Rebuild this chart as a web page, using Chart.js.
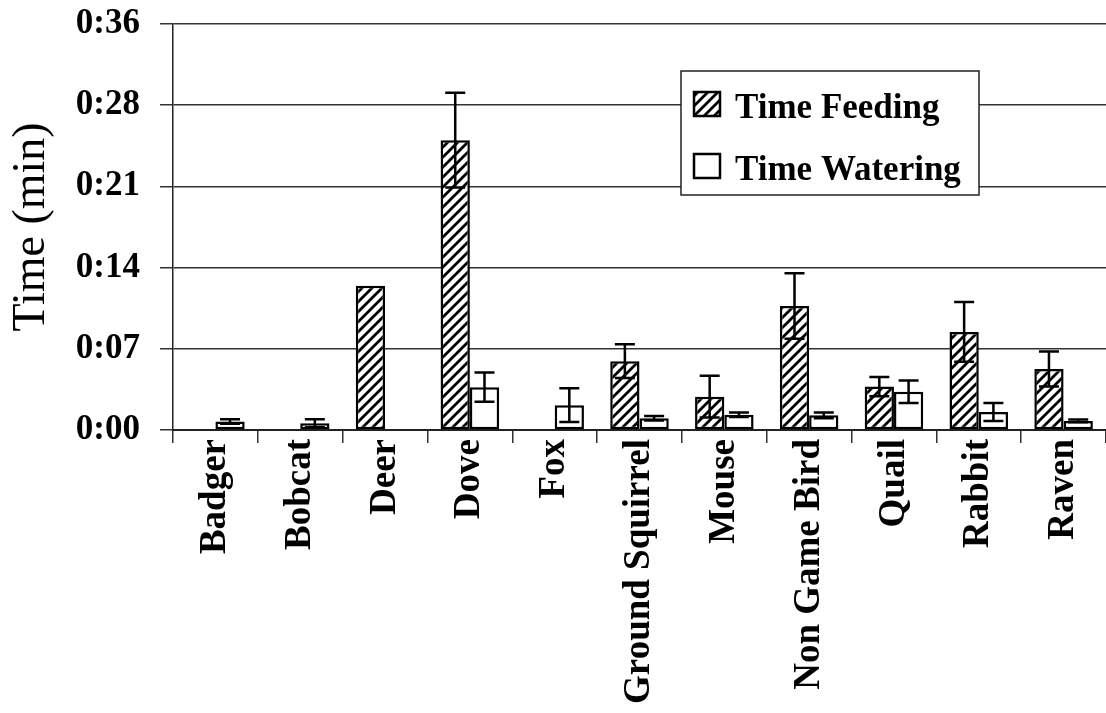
<!DOCTYPE html>
<html>
<head>
<meta charset="utf-8">
<script src="https://cdn.jsdelivr.net/npm/chart.js@4.4.1/dist/chart.umd.min.js"></script>
<style>
  html, body { margin: 0; padding: 0; background: #fff; }
  #wrap { width: 1106px; height: 713px; position: relative; }
</style>
</head>
<body>
<div id="wrap"><canvas id="myChart" width="1106" height="713"></canvas></div>
<script>
// datos (segundos)
const categorias = ['Badger', 'Bobcat', 'Deer', 'Dove', 'Fox', 'Ground Squirrel', 'Mouse', 'Non Game Bird', 'Quail', 'Rabbit', 'Raven'];
const tiempoComida = [0, 0, 12.8, 25.7, 0, 6.1, 2.95, 11.0, 3.85, 8.7, 5.4];
const errorComida = [0, 0, 0, 4.2, 0, 1.5, 1.85, 2.9, 0.85, 2.65, 1.55];
const tiempoAgua = [0.75, 0.6, 0, 3.8, 2.2, 1.05, 1.35, 1.3, 3.4, 1.6, 0.8];
const errorAgua = [0.2, 0.35, 0, 1.3, 1.5, 0.2, 0.2, 0.25, 1.0, 0.8, 0.12];
const etiquetasY = ['0:00', '0:07', '0:14', '0:21', '0:28', '0:36'];

const serif = "'Liberation Serif', 'Times New Roman', serif";

// patron rayado para "Time Feeding"
const rayado = (() => {
  const s = 10;
  const c = document.createElement('canvas');
  c.width = s; c.height = s;
  const g = c.getContext('2d');
  g.fillStyle = '#fff';
  g.fillRect(0, 0, s, s);
  g.strokeStyle = '#000';
  g.lineWidth = 2.8;
  g.beginPath();
  g.moveTo(-2, s + 2); g.lineTo(s + 2, -2);
  g.moveTo(-2, 2); g.lineTo(2, -2);
  g.moveTo(s - 2, s + 2); g.lineTo(s + 2, s - 2);
  g.stroke();
  return document.getElementById('myChart').getContext('2d').createPattern(c, 'repeat');
})();

const errores = [errorComida, errorAgua];

// barras de error
const pluginErrores = {
  id: 'errores',
  afterDatasetsDraw(chart) {
    const ctx = chart.ctx;
    const y = chart.scales.y;
    ctx.save();
    ctx.strokeStyle = '#000';
    ctx.lineWidth = 2.5;
    chart.data.datasets.forEach((ds, i) => {
      const meta = chart.getDatasetMeta(i);
      meta.data.forEach((bar, j) => {
        const e = errores[i][j];
        if (!e) return;
        const v = ds.data[j];
        const yTop = y.getPixelForValue(v + e);
        const yBot = y.getPixelForValue(Math.max(0, v - e));
        ctx.beginPath();
        ctx.moveTo(bar.x, yTop); ctx.lineTo(bar.x, yBot);
        ctx.moveTo(bar.x - 10, yTop); ctx.lineTo(bar.x + 10, yTop);
        ctx.moveTo(bar.x - 10, yBot); ctx.lineTo(bar.x + 10, yBot);
        ctx.stroke();
      });
    });
    ctx.restore();
  }
};

// leyenda dentro del area del grafico
const pluginLeyenda = {
  id: 'leyendaCaja',
  afterDraw(chart) {
    const ctx = chart.ctx;
    const bx = 681, by = 71, bw = 298, bh = 124;
    ctx.save();
    ctx.fillStyle = '#fff';
    ctx.fillRect(bx, by, bw, bh);
    ctx.strokeStyle = '#222';
    ctx.lineWidth = 1.5;
    ctx.strokeRect(bx, by, bw, bh);
    ctx.font = 'bold 35px ' + serif;
    ctx.textBaseline = 'alphabetic';
    chart.data.datasets.forEach((ds, i) => {
      const sy = by + 21 + i * 62;
      ctx.fillStyle = ds.backgroundColor;
      ctx.fillRect(bx + 13, sy, 26, 24);
      ctx.lineWidth = 2.5;
      ctx.strokeStyle = '#000';
      ctx.strokeRect(bx + 13, sy, 26, 24);
      ctx.fillStyle = '#000';
      ctx.fillText(ds.label, bx + 54, sy + 26);
    });
    ctx.restore();
  }
};

const Canvas = document.getElementById('myChart');

const datosGrafico = {
  labels: categorias,
  datasets: [{
    label: 'Time Feeding',
    data: tiempoComida,
    backgroundColor: rayado,
    borderColor: '#000',
    borderWidth: 2.5,
    borderSkipped: false
  }, {
    label: 'Time Watering',
    data: tiempoAgua,
    backgroundColor: '#fff',
    borderColor: '#000',
    borderWidth: 2.5,
    borderSkipped: false
  }]
};

const barChart = new Chart(Canvas, {
  type: 'bar',
  data: datosGrafico,
  plugins: [pluginErrores, pluginLeyenda],
  options: {
    responsive: false,
    animation: false,
    categoryPercentage: 0.69,
    barPercentage: 1.0,
    layout: { padding: { top: 24, right: 0, left: 0, bottom: 0 } },
    plugins: {
      legend: { display: false },
      tooltip: { enabled: false }
    },
    scales: {
      x: {
        afterFit(scale) { scale.height = 283; },
        grid: { drawOnChartArea: false, tickLength: 13, color: '#333', lineWidth: 1.5 },
        border: { color: '#222', width: 2 },
        ticks: {
          color: '#000',
          font: { family: serif, size: 37, weight: 'bold' },
          minRotation: 90,
          maxRotation: 90,
          autoSkip: false,
          padding: -4
        }
      },
      y: {
        min: 0,
        max: 36,
        afterFit(scale) {
          scale.width = 173;
          scale.paddingTop = 0;
          scale.paddingBottom = 0;
        },
        ticks: {
          stepSize: 7.2,
          color: '#000',
          padding: 20,
          font: { family: serif, size: 35, weight: 'bold' },
          callback: (v, i) => etiquetasY[i]
        },
        grid: { color: '#333', lineWidth: 1.5, tickLength: 13 },
        border: { color: '#222', width: 1.5 },
        title: {
          display: true,
          text: 'Time (min)',
          color: '#000',
          font: { family: serif, size: 46, weight: 'normal' },
          padding: { top: 4, bottom: 0 }
        }
      }
    }
  }
});
</script>
</body>
</html>
